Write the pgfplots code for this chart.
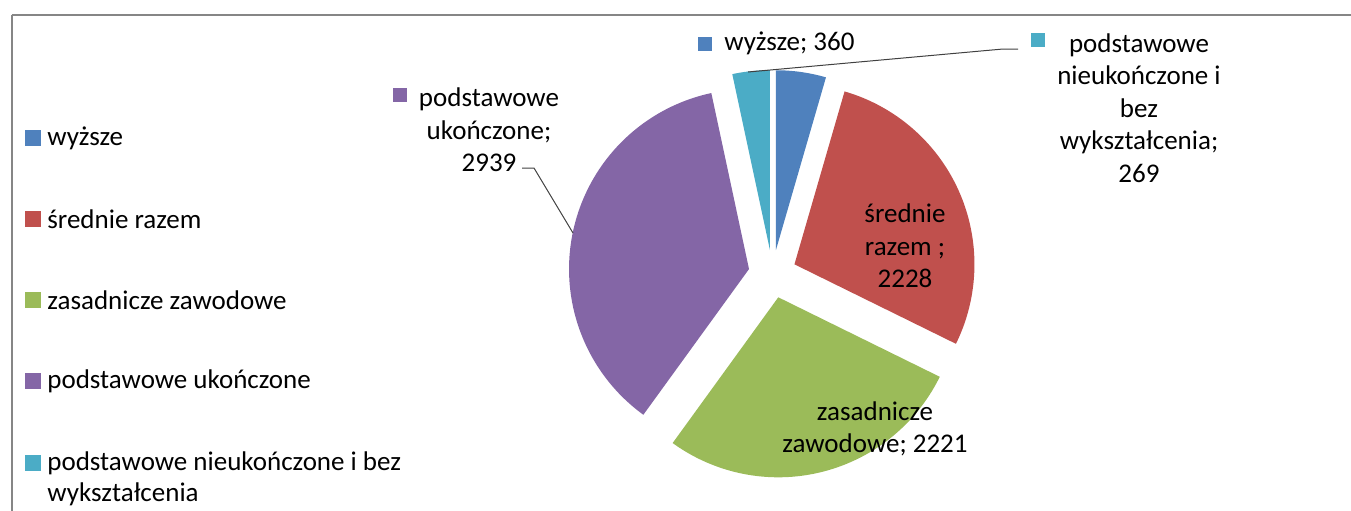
\documentclass[border=0pt]{standalone}
\usepackage{pgfplots}
\pgfplotsset{compat=1.18}
\usepackage{fontspec}
\setmainfont{Carlito}
\definecolor{cA}{HTML}{4F81BD}
\definecolor{cB}{HTML}{C0504D}
\definecolor{cC}{HTML}{9BBB59}
\definecolor{cD}{HTML}{8466A6}
\definecolor{cE}{HTML}{4BACC6}
\definecolor{frame}{HTML}{868686}
% data
\def\vA{360}\def\vB{2228}\def\vC{2221}\def\vD{2939}\def\vE{269}
\pgfmathsetmacro\tot{\vA+\vB+\vC+\vD+\vE}
\pgfmathsetmacro\aA{90}
\pgfmathsetmacro\aB{\aA-360*(\vA/\tot)}
\pgfmathsetmacro\aC{\aB-360*(\vB/\tot)}
\pgfmathsetmacro\aD{\aC-360*(\vC/\tot)}
\pgfmathsetmacro\aE{\aD-360*(\vD/\tot)}
\pgfmathsetmacro\aF{\aE-360*(\vE/\tot)}
\def\cx{772.5}\def\cy{274}\def\rr{180}\def\ex{24}
\newcommand\pieslice[3]{%
  \pgfmathsetmacro\sa{#2}\pgfmathsetmacro\ea{#3}%
  \pgfmathsetmacro\ma{(\sa+\ea)/2}%
  \pgfmathsetmacro\ox{\cx+\ex*cos(\ma)}%
  \pgfmathsetmacro\oy{\cy-\ex*sin(\ma)}%
  \edef\temp{\noexpand\addplot[fill=#1, draw=none, domain=\ea:\sa, samples=90, variable=\noexpand\t]
    ({\ox+\rr*cos(\noexpand\t)},{\oy-\rr*sin(\noexpand\t)}) -- (axis cs:\ox,\oy) -- cycle;}%
  \temp}
\begin{document}
\begin{tikzpicture}
\useasboundingbox (0,0) rectangle (675.5pt,255pt);
\clip (0,0) rectangle (675.5pt,255pt);
\begin{axis}[
  anchor=south west, at={(0,0)},
  scale only axis, width=675.5pt, height=255pt,
  xmin=0, xmax=1351, ymin=0, ymax=510, y dir=reverse,
  hide axis, clip=false,
]
\draw[frame, line width=1pt] (axis cs:11.5,14.5) -- (axis cs:1400,14.5);
\draw[frame, line width=1pt] (axis cs:11.5,14.5) -- (axis cs:11.5,600);
\pieslice{cA}{\aA}{\aB}
\pieslice{cB}{\aB}{\aC}
\pieslice{cC}{\aC}{\aD}
\pieslice{cD}{\aD}{\aE}
\pieslice{cE}{\aE}{\aF}
% leader lines
\draw[black!75, line width=0.5pt] (axis cs:1018,49) -- (axis cs:1003,49) -- (axis cs:748,72);
\draw[black!75, line width=0.5pt] (axis cs:522,168) -- (axis cs:534,168) -- (axis cs:573,233);
% data labels
\tikzset{lab/.style={font=\fontsize{13.5}{16.25}\selectfont, align=center, inner sep=0pt, text=black}}
\fill[cA] (axis cs:697.5,36.5) rectangle (axis cs:711.5,50.5);
\node[lab, anchor=west] at (axis cs:724,43) {wyższe; 360};
\fill[cE] (axis cs:1031,33) rectangle (axis cs:1045,47);
\node[lab] at (axis cs:1139,108) {podstawowe\\nieukończone i\\bez\\wykształcenia;\\269};
\fill[cD] (axis cs:392.5,88) rectangle (axis cs:406.5,102);
\node[lab] at (axis cs:489,130) {podstawowe\\ukończone;\\2939};
\node[lab] at (axis cs:905,246) {średnie\\razem ;\\2228};
\node[lab] at (axis cs:875,429) {zasadnicze\\zawodowe; 2221};
% legend
\tikzset{leg/.style={font=\fontsize{13.5}{15}\selectfont, inner sep=0pt, anchor=west, text=black}}
\fill[cA] (axis cs:25,130) rectangle (axis cs:41,146);
\node[leg] at (axis cs:47,138) {wyższe};
\fill[cB] (axis cs:25,211) rectangle (axis cs:41,227);
\node[leg] at (axis cs:47,219) {średnie razem};
\fill[cC] (axis cs:25,292) rectangle (axis cs:41,308);
\node[leg] at (axis cs:47,300) {zasadnicze zawodowe};
\fill[cD] (axis cs:25,373) rectangle (axis cs:41,389);
\node[leg] at (axis cs:47,381) {podstawowe ukończone};
\fill[cE] (axis cs:25,455) rectangle (axis cs:41,471);
\node[leg] at (axis cs:47,463) {podstawowe nieukończone i bez};
\node[leg] at (axis cs:47,494) {wykształcenia};
\end{axis}
\end{tikzpicture}
\end{document}
